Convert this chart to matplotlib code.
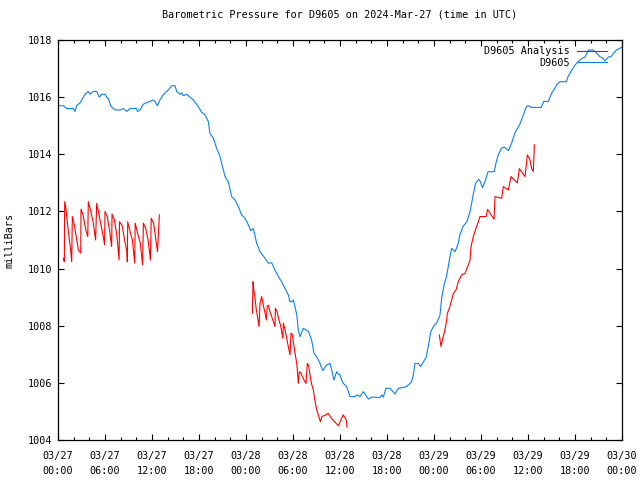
import matplotlib
matplotlib.use("Agg")
import matplotlib.pyplot as plt
from matplotlib.ticker import MultipleLocator

# ---------------- data ----------------
title = "Barometric Pressure for D9605 on 2024-Mar-27 (time in UTC)"
ylabel = "milliBars"
series_obs = "D9605"
series_ana = "D9605 Analysis"

# observed station pressure (hours since 2024-03-27 00:00 UTC, mb)
obs_hours = [0.0, 0.26, 0.68, 0.89, 1.11, 1.96, 2.17, 2.38, 2.81, 3.02, 3.45, 3.87, 4.09, 4.51,
             4.94, 5.28, 5.57, 6.0, 6.21, 6.43, 6.72, 7.06, 7.4, 7.91, 8.34, 8.77, 9.19, 10.04,
             10.13, 10.47, 10.89, 11.23, 11.74, 12.09, 12.38, 12.68, 13.02, 13.36, 13.66, 14.09,
             14.51, 14.94, 15.15, 15.57, 15.79, 16.0, 16.43, 16.85, 17.28, 17.7, 17.91, 18.34,
             18.77, 19.19, 19.4, 19.83, 20.26, 20.68, 21.11, 21.32, 21.74, 22.17, 22.6, 23.02,
             23.45, 23.87, 24.3, 24.6, 24.94, 25.36, 25.79, 26.43, 26.85, 27.28, 27.7, 28.13,
             28.55, 28.98, 29.4, 29.62, 29.83, 30.04, 30.47, 30.68, 30.9, 31.32, 31.96, 32.38,
             32.68, 33.0, 33.45, 33.79, 34.3, 34.72, 34.9, 35.23, 35.57, 35.8, 36.0, 36.2, 36.43,
             36.85, 37.28, 37.91, 38.2, 38.55, 38.98, 39.28, 39.62, 40.04, 41.11, 41.32, 41.53,
             41.87, 42.38, 43.02, 43.45, 44.09, 44.51, 45.15, 45.36, 45.57, 46.0, 46.3, 47.0,
             47.28, 47.6, 48.0, 48.34, 48.75, 49.0, 49.3, 49.6, 50.04, 50.26, 50.7, 51.1, 51.3,
             51.7, 52.2, 52.6, 52.8, 53.0, 53.3, 53.7, 53.9, 54.2, 54.5, 54.9, 55.7, 55.9, 56.2,
             56.6, 57.0, 57.5, 57.9, 58.3, 59.0, 59.4, 59.8, 60.1, 60.4, 61.7, 62.0, 62.6, 63.0,
             63.3, 63.7, 64.1, 64.9, 65.1, 65.6, 66.0, 66.4, 66.9, 67.3, 67.5, 67.7, 68.3, 68.8,
             69.2, 69.6, 69.8, 70.3, 70.6, 70.9, 71.3, 71.7, 72.0]
obs_mb = [1015.7, 1015.7, 1015.7, 1015.65, 1015.6, 1015.6, 1015.5, 1015.7, 1015.8, 1015.9,
          1016.1, 1016.2, 1016.1, 1016.2, 1016.2, 1016.0, 1016.1, 1016.1, 1016.0, 1015.95,
          1015.7, 1015.6, 1015.55, 1015.55, 1015.6, 1015.5, 1015.6, 1015.6, 1015.5, 1015.55,
          1015.75, 1015.8, 1015.85, 1015.9, 1015.85, 1015.7, 1015.9, 1016.05, 1016.15, 1016.25,
          1016.4, 1016.4, 1016.2, 1016.1, 1016.15, 1016.05, 1016.1, 1016.0, 1015.9, 1015.75,
          1015.67, 1015.47, 1015.38, 1015.14, 1014.73, 1014.56, 1014.21, 1013.92, 1013.45,
          1013.22, 1013.04, 1012.52, 1012.4, 1012.17, 1011.88, 1011.76, 1011.53, 1011.33,
          1011.4, 1010.89, 1010.59, 1010.36, 1010.19, 1010.2, 1009.95, 1009.72, 1009.54,
          1009.31, 1009.08, 1008.84, 1008.84, 1008.9, 1008.4, 1007.85, 1007.62, 1007.91,
          1007.8, 1007.5, 1007.03, 1006.92, 1006.68, 1006.43, 1006.63, 1006.68, 1006.5,
          1006.1, 1006.39, 1006.3, 1006.28, 1006.1, 1005.98, 1005.87, 1005.52, 1005.52,
          1005.58, 1005.52, 1005.69, 1005.58, 1005.43, 1005.5, 1005.49, 1005.58, 1005.5,
          1005.81, 1005.81, 1005.61, 1005.81, 1005.84, 1005.87, 1006.04, 1006.28, 1006.68,
          1006.68, 1006.57, 1006.9, 1007.3, 1007.8, 1008.0, 1008.1, 1008.35, 1009.0, 1009.45,
          1009.72, 1010.42, 1010.71, 1010.59, 1010.89, 1011.18, 1011.47, 1011.64, 1011.99,
          1012.28, 1012.58, 1012.98, 1013.12, 1013.05, 1012.83, 1013.04, 1013.39, 1013.39,
          1013.68, 1013.98, 1014.21, 1014.25, 1014.13, 1014.38, 1014.73, 1015.08, 1015.38,
          1015.67, 1015.7, 1015.64, 1015.64, 1015.85, 1015.85, 1016.13, 1016.25, 1016.45,
          1016.54, 1016.54, 1016.71, 1016.95, 1017.12, 1017.24, 1017.36, 1017.41, 1017.53,
          1017.65, 1017.65, 1017.53, 1017.41, 1017.36, 1017.27, 1017.41, 1017.41, 1017.53,
          1017.65, 1017.71, 1017.75]

# analysis pressure, three separate pieces
ana1_hours = [0.68, 0.81, 0.85, 1.0, 1.2, 1.45, 1.6, 1.75, 1.83, 2.1, 2.4, 2.6, 2.9, 2.94, 3.2,
              3.55, 3.8, 3.87, 4.2, 4.5, 4.8, 4.94, 5.2, 5.5, 5.8, 5.95, 6.0, 6.3, 6.6, 6.85, 6.9,
              7.2, 7.5, 7.8, 7.85, 8.2, 8.5, 8.8, 8.85, 8.9, 9.2, 9.5, 9.8, 9.85, 10.2, 10.5,
              10.8, 10.9, 11.2, 11.5, 11.8, 11.9, 12.2, 12.5, 12.7, 12.8, 12.94]
ana1_mb = [1010.36, 1010.24, 1012.34, 1012.14, 1011.6, 1011.0, 1010.7, 1010.24, 1011.82,
           1011.5, 1011.0, 1010.65, 1010.54, 1012.08, 1011.87, 1011.35, 1011.12, 1012.34,
           1011.99, 1011.6, 1011.0, 1012.28, 1011.95, 1011.5, 1011.1, 1010.83, 1012.0, 1011.8,
           1011.3, 1010.77, 1011.91, 1011.7, 1011.2, 1010.3, 1011.64, 1011.5, 1011.0, 1010.59,
           1010.24, 1011.64, 1011.3, 1011.0, 1010.19, 1011.59, 1011.2, 1010.9, 1010.13,
           1011.59, 1011.4, 1011.0, 1010.3, 1011.76, 1011.6, 1011.0, 1010.59, 1011.12, 1011.88]

ana2_hours = [24.81, 24.9, 25.0, 25.15, 25.3, 25.5, 25.66, 25.79, 26.0, 26.2, 26.4, 26.6, 26.7,
              26.85, 27.1, 27.3, 27.5, 27.7, 27.75, 27.95, 28.2, 28.4, 28.55, 28.7, 28.77, 28.95,
              29.2, 29.4, 29.62, 29.75, 29.9, 30.1, 30.3, 30.5, 30.68, 30.81, 31.0, 31.3, 31.5,
              31.66, 31.83, 32.0, 32.2, 32.4, 32.6, 32.75, 32.9, 33.1, 33.3, 33.5, 33.7, 34.1,
              34.5, 34.9, 35.3, 35.8, 36.4, 36.8, 36.9]
ana2_mb = [1008.43, 1009.54, 1009.25, 1008.96, 1008.6, 1008.26, 1007.97, 1008.78, 1009.02,
           1008.72, 1008.49, 1008.2, 1008.66, 1008.72, 1008.45, 1008.3, 1008.14, 1007.97,
           1008.61, 1008.5, 1008.2, 1008.03, 1007.8, 1007.56, 1008.08, 1007.9, 1007.56,
           1007.27, 1006.98, 1007.74, 1007.7, 1007.33, 1006.98, 1006.63, 1005.98, 1006.39,
           1006.35, 1006.16, 1006.05, 1005.98, 1006.68, 1006.6, 1006.22, 1005.93, 1005.75,
           1005.46, 1005.23, 1004.99, 1004.82, 1004.64, 1004.82, 1004.87, 1004.93, 1004.76,
           1004.64, 1004.5, 1004.88, 1004.7, 1004.45]

ana3_hours = [48.68, 48.77, 48.9, 49.06, 49.4, 49.62, 49.7, 49.96, 50.26, 50.47, 50.81, 51.1,
              51.53, 51.96, 52.38, 52.6, 52.73, 53.02, 53.36, 53.66, 53.87, 54.64, 54.85, 55.66,
              55.79, 56.64, 56.85, 57.49, 57.83, 58.64, 58.9, 59.62, 59.92, 60.26, 60.47, 60.68,
              60.81]
ana3_mb = [1007.68, 1007.5, 1007.27, 1007.5, 1007.85, 1008.2, 1008.43, 1008.61, 1008.9, 1009.13,
           1009.25, 1009.54, 1009.78, 1009.83, 1010.13, 1010.3, 1010.77, 1011.12, 1011.41,
           1011.64, 1011.82, 1011.82, 1012.07, 1011.73, 1012.52, 1012.46, 1012.87, 1012.75,
           1013.22, 1013.0, 1013.5, 1013.22, 1013.98, 1013.8, 1013.5, 1013.4, 1014.33]

xtick_hours = [0, 6, 12, 18, 24, 30, 36, 42, 48, 54, 60, 66, 72]
xtick_labels = ["03/27\n00:00", "03/27\n06:00", "03/27\n12:00", "03/27\n18:00",
                "03/28\n00:00", "03/28\n06:00", "03/28\n12:00", "03/28\n18:00",
                "03/29\n00:00", "03/29\n06:00", "03/29\n12:00", "03/29\n18:00",
                "03/30\n00:00"]
ytick_values = [1004, 1006, 1008, 1010, 1012, 1014, 1016, 1018]

# ---------------- plot ----------------
plt.rcParams['font.family'] = ['DejaVu Sans Mono']
FS = 7.3
red = "#ff0000"
blue = "#0a80f0"

fig = plt.figure(figsize=(6.4, 4.8), dpi=100)
ax = fig.add_axes([58 / 640, 40 / 480, 564 / 640, 400 / 480])

lw = 0.8
ax.plot(ana1_hours, ana1_mb, color=red, lw=lw, label=series_ana)
ax.plot(ana2_hours, ana2_mb, color=red, lw=lw)
ax.plot(ana3_hours, ana3_mb, color=red, lw=lw)
ax.plot(obs_hours, obs_mb, color=blue, lw=lw, label=series_obs)

ax.set_xlim(0, 72)
ax.set_ylim(1004, 1018)
ax.set_xticks(xtick_hours)
ax.set_xticklabels(xtick_labels, fontsize=FS, linespacing=1.6)
ax.xaxis.set_minor_locator(MultipleLocator(2))
ax.set_yticks(ytick_values)
ax.set_yticklabels([str(v) for v in ytick_values], fontsize=FS)
ax.tick_params(which='both', direction='in', top=True, right=True, width=0.8, color='black')
ax.tick_params(which='major', length=4.0, pad=4)
ax.tick_params(which='minor', length=2.0)
ax.tick_params(axis='x', which='major', pad=8)
for s in ax.spines.values():
    s.set_linewidth(0.9)

ax.set_title(title, fontsize=FS, pad=16)
ax.set_ylabel(ylabel, fontsize=FS, labelpad=10)

leg = ax.legend(loc='upper right', frameon=False, markerfirst=False, fontsize=FS,
                handlelength=3.0, handletextpad=0.7, labelspacing=0.15,
                borderaxespad=0.2, bbox_to_anchor=(0.985, 1.0))

fig.savefig("out.png", dpi=100)
